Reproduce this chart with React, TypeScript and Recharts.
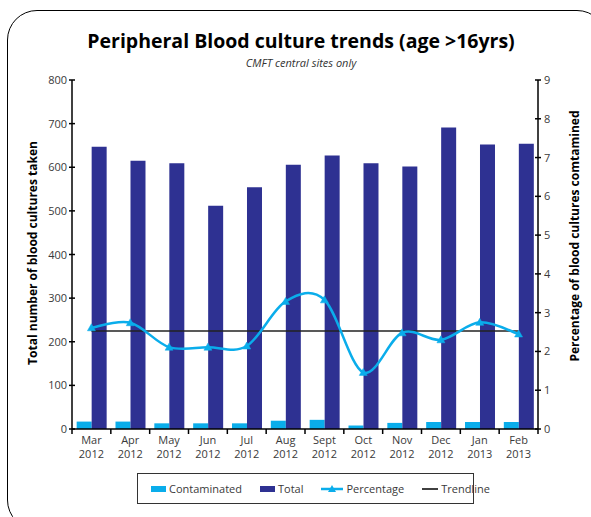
import React from 'react';
import { ComposedChart, Bar, Line, XAxis, YAxis, Legend } from 'recharts';

const months = ['Mar', 'Apr', 'May', 'Jun', 'Jul', 'Aug', 'Sept', 'Oct', 'Nov', 'Dec', 'Jan', 'Feb'];
const years = ['2012', '2012', '2012', '2012', '2012', '2012', '2012', '2012', '2012', '2012', '2013', '2013'];
const contaminated = [17, 17, 13, 13, 13, 19, 21, 8, 14, 16, 16, 16];
const total = [647, 615, 609, 512, 554, 606, 627, 609, 602, 691, 652, 654];
const percentage = [2.61, 2.74, 2.11, 2.11, 2.14, 3.29, 3.33, 1.46, 2.48, 2.30, 2.75, 2.45];
const trendline = [2.53, 2.53, 2.53, 2.53, 2.53, 2.53, 2.53, 2.53, 2.53, 2.53, 2.53, 2.53];
const leftTicks = [0, 100, 200, 300, 400, 500, 600, 700, 800];
const rightTicks = [0, 1, 2, 3, 4, 5, 6, 7, 8, 9];

const data = months.map((m, i) => ({
  label: `${m} ${years[i]}`,
  contaminated: contaminated[i],
  total: total[i],
  percentage: percentage[i],
  trendline: trendline[i],
}));

const FONT = '"Open Sans", "Noto Sans", sans-serif';
const LIGHT = '#0AADEB';
const DARK = '#2E3192';
const TEXT = '#3a3a3a';

const W = 591;
const H = 517;
const MARGIN = { top: 80, right: 13, bottom: 58, left: 32 };
const Y_W = 40;
const PLOT_W = W - MARGIN.left - MARGIN.right - 2 * Y_W;
const BAND = PLOT_W / months.length;

// Excel-style smoothed line (Catmull-Rom as cubic Bezier)
function excelSmooth(context: any) {
  let pts: number[][] = [];
  return {
    areaStart() {},
    areaEnd() {},
    lineStart() {
      pts = [];
    },
    point(x: number, y: number) {
      pts.push([+x, +y]);
    },
    lineEnd() {
      const n = pts.length;
      if (!n) return;
      context.moveTo(pts[0][0], pts[0][1]);
      for (let i = 0; i < n - 1; i++) {
        const p0 = pts[Math.max(0, i - 1)];
        const p1 = pts[i];
        const p2 = pts[i + 1];
        const p3 = pts[Math.min(n - 1, i + 2)];
        context.bezierCurveTo(
          p1[0] + (p2[0] - p0[0]) / 6,
          p1[1] + (p2[1] - p0[1]) / 6,
          p2[0] - (p3[0] - p1[0]) / 6,
          p2[1] - (p3[1] - p1[1]) / 6,
          p2[0],
          p2[1]
        );
      }
    },
  };
}

const XTick = (props: any) => {
  const { x, y, payload, index } = props;
  const axisY = y - 6;
  const i = payload.index ?? index;
  return (
    <g>
      <line x1={x - BAND / 2} x2={x - BAND / 2} y1={axisY} y2={axisY + 5} stroke="#000" strokeWidth={1.5} />
      {i === months.length - 1 && (
        <line x1={x + BAND / 2} x2={x + BAND / 2} y1={axisY} y2={axisY + 5} stroke="#000" strokeWidth={1.5} />
      )}
      <text x={x} y={axisY + 15} textAnchor="middle" fontFamily={FONT} fontSize={11} fill={TEXT}>
        {months[i]}
      </text>
      <text x={x} y={axisY + 29} textAnchor="middle" fontFamily={FONT} fontSize={11} fill={TEXT}>
        {years[i]}
      </text>
    </g>
  );
};

const LeftTick = (props: any) => {
  const { x, y, payload } = props;
  const axisX = x + 5;
  return (
    <g>
      <line x1={axisX - 3} x2={axisX + 3} y1={y} y2={y} stroke="#000" strokeWidth={1.5} />
      <text x={axisX - 5} y={y + 4} textAnchor="end" fontFamily={FONT} fontSize={11} fill={TEXT}>
        {payload.value}
      </text>
    </g>
  );
};

const RightTick = (props: any) => {
  const { x, y, payload } = props;
  const axisX = x - 5;
  return (
    <g>
      <line x1={axisX - 3} x2={axisX + 3} y1={y} y2={y} stroke="#000" strokeWidth={1.5} />
      <text x={axisX + 6} y={y + 4} textAnchor="start" fontFamily={FONT} fontSize={11} fill={TEXT}>
        {payload.value}
      </text>
    </g>
  );
};

const TriangleDot = (props: any) => {
  const { cx, cy, key } = props;
  if (cx == null || cy == null) return null;
  return (
    <path
      key={key}
      d={`M${cx},${cy - 4} L${cx + 4},${cy + 3} L${cx - 4},${cy + 3} Z`}
      fill={LIGHT}
      stroke={LIGHT}
      strokeWidth={0.5}
    />
  );
};

const LeftLabel = (props: any) => {
  const cx = 37;
  const cy = 253;
  return (
    <text
      x={cx}
      y={cy}
      transform={`rotate(-90, ${cx}, ${cy})`}
      textAnchor="middle"
      fontFamily={FONT}
      fontSize={12}
      fontWeight="bold"
      fill="#000"
    >
      Total number of blood cultures taken
    </text>
  );
};

const RightLabel = (props: any) => {
  const cx = 579;
  const cy = 236;
  return (
    <text
      x={cx}
      y={cy}
      transform={`rotate(-90, ${cx}, ${cy})`}
      textAnchor="middle"
      fontFamily={FONT}
      fontSize={12}
      fontWeight="bold"
      fill="#000"
    >
      Percentage of blood cultures comtamined
    </text>
  );
};

const LegendContent = () => {
  const item = { display: 'flex', alignItems: 'center', marginRight: 18 } as React.CSSProperties;
  const txt = { fontFamily: FONT, fontSize: 11, color: TEXT, marginLeft: 3 } as React.CSSProperties;
  return (
    <div
      style={{
        boxSizing: 'border-box',
        width: 337,
        height: 31,
        border: '1px solid #333',
        background: '#fff',
        display: 'flex',
        alignItems: 'center',
        paddingLeft: 13,
      }}
    >
      <div style={item}>
        <div style={{ width: 15, height: 6, background: LIGHT }} />
        <span style={txt}>Contaminated</span>
      </div>
      <div style={item}>
        <div style={{ width: 15, height: 6, background: DARK }} />
        <span style={txt}>Total</span>
      </div>
      <div style={item}>
        <svg width={22} height={10}>
          <line x1={0} x2={22} y1={5} y2={5} stroke={LIGHT} strokeWidth={2.5} />
          <path d="M11,1 L15,8 L7,8 Z" fill={LIGHT} />
        </svg>
        <span style={txt}>Percentage</span>
      </div>
      <div style={item}>
        <svg width={16} height={10}>
          <line x1={0} x2={16} y1={5} y2={5} stroke="#000" strokeWidth={1.5} />
        </svg>
        <span style={txt}>Trendline</span>
      </div>
    </div>
  );
};

export default function App() {
  return (
    <div style={{ position: 'absolute', left: 0, top: 0, width: W, height: H, overflow: 'hidden', background: '#fff' }}>
      <div
        style={{
          position: 'absolute',
          left: 7,
          top: 10,
          width: 600,
          height: 520,
          border: '1.5px solid #000',
          borderRadius: 30,
          boxSizing: 'border-box',
        }}
      />
      <div
        style={{
          position: 'absolute',
          left: 0,
          width: 602,
          top: 30,
          textAlign: 'center',
          fontFamily: FONT,
          fontWeight: 'bold',
          fontSize: 19.5,
          color: '#000',
          lineHeight: '22px',
        }}
      >
        Peripheral Blood culture trends (age &gt;16yrs)
      </div>
      <div
        style={{
          position: 'absolute',
          left: 0,
          width: 602,
          top: 56,
          textAlign: 'center',
          fontFamily: FONT,
          fontStyle: 'italic',
          fontSize: 11,
          color: '#333',
          lineHeight: '13px',
        }}
      >
        CMFT central sites only
      </div>
      <div style={{ position: 'absolute', left: 0, top: 0 }}>
        <ComposedChart width={W} height={H} data={data} margin={MARGIN} barCategoryGap="12%" barGap={0}>
          <XAxis
            dataKey="label"
            xAxisId="x"
            height={30}
            tickSize={4}
            tickMargin={2}
            tickLine={false}
            axisLine={{ stroke: '#000', strokeWidth: 1.5 }}
            tick={<XTick />}
            interval={0}
          />
          <YAxis
            yAxisId="left"
            orientation="left"
            width={Y_W}
            domain={[0, 800]}
            ticks={leftTicks}
            tickSize={3}
            tickMargin={2}
            tickLine={false}
            axisLine={{ stroke: '#000', strokeWidth: 1.5 }}
            tick={<LeftTick />}
            label={<LeftLabel />}
            interval={0}
          />
          <YAxis
            yAxisId="right"
            orientation="right"
            width={Y_W}
            domain={[0, 9]}
            ticks={rightTicks}
            tickSize={3}
            tickMargin={2}
            tickLine={false}
            axisLine={{ stroke: '#000', strokeWidth: 1.5 }}
            tick={<RightTick />}
            label={<RightLabel />}
            interval={0}
          />
          <Bar dataKey="contaminated" name="Contaminated" xAxisId="x" yAxisId="left" fill={LIGHT} isAnimationActive={false} />
          <Bar dataKey="total" name="Total" xAxisId="x" yAxisId="left" fill={DARK} isAnimationActive={false} />
          <Line
            dataKey="trendline"
            name="Trendline"
            xAxisId="x"
            yAxisId="right"
            type="linear"
            stroke="#222"
            strokeWidth={1.5}
            dot={false}
            activeDot={false}
            isAnimationActive={false}
          />
          <Line
            dataKey="percentage"
            name="Percentage"
            xAxisId="x"
            yAxisId="right"
            type={excelSmooth as any}
            stroke={LIGHT}
            strokeWidth={2.5}
            dot={<TriangleDot />}
            activeDot={false}
            isAnimationActive={false}
          />
          <Legend
            layout="horizontal"
            verticalAlign="middle"
            align="center"
            content={<LegendContent />}
            wrapperStyle={{ position: 'absolute', left: 137, top: 473, width: 337, height: 31 }}
          />
        </ComposedChart>
      </div>
    </div>
  );
}
